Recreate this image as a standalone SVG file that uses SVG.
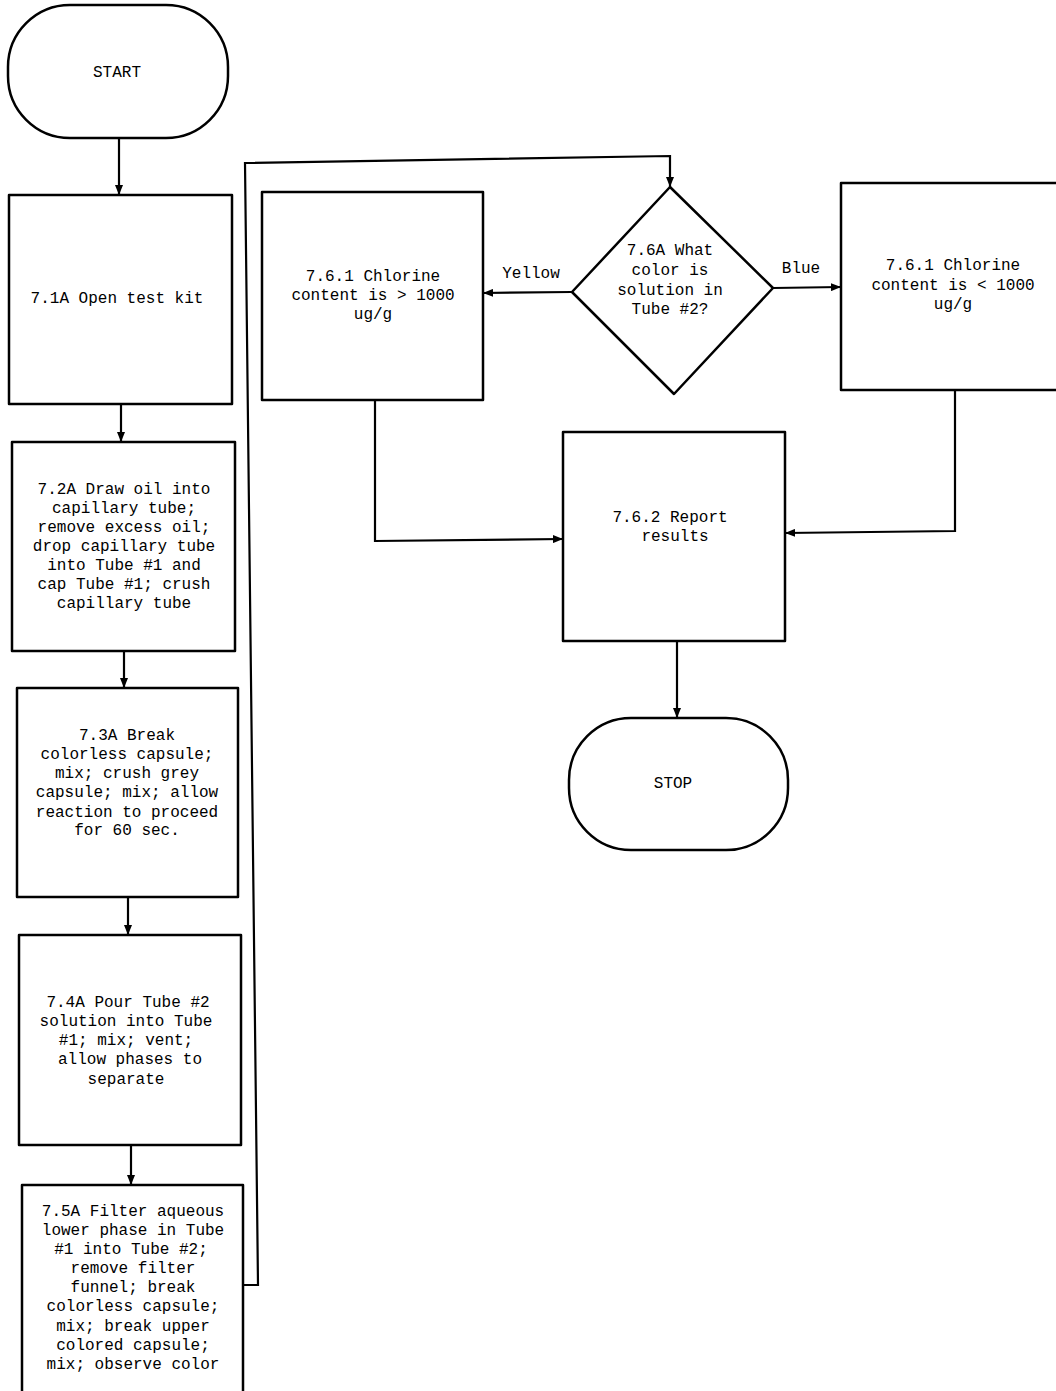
<svg xmlns="http://www.w3.org/2000/svg" width="1056" height="1391" viewBox="0 0 1056 1391">
<defs>
<style>
.shape{fill:#fff;stroke:#000;stroke-width:2.5;stroke-linejoin:round}
.conn{fill:none;stroke:#000;stroke-width:2.2}
text{font-family:"Liberation Mono","DejaVu Sans Mono",monospace;font-size:16px;fill:#000;text-anchor:middle}
</style>
<marker id="arr" markerUnits="userSpaceOnUse" markerWidth="10" markerHeight="8" refX="10" refY="4" orient="auto">
<path d="M0,0 L10,4 L0,8 Z" fill="#000"/>
</marker>
</defs>
<rect width="1056" height="1391" fill="#fff"/>

<g id="connectors">
<path class="conn" d="M119,138 L119,195" marker-end="url(#arr)"/>
<path class="conn" d="M121,404 L121,442" marker-end="url(#arr)"/>
<path class="conn" d="M124,651 L124,688" marker-end="url(#arr)"/>
<path class="conn" d="M128,897 L128,935" marker-end="url(#arr)"/>
<path class="conn" d="M131,1145 L131,1185" marker-end="url(#arr)"/>
<path class="conn" d="M243,1285 L258,1285 L245,163 L670,156 L670,187" marker-end="url(#arr)"/>
<path class="conn" d="M572,292 L483,293" marker-end="url(#arr)"/>
<path class="conn" d="M773,288 L841,287" marker-end="url(#arr)"/>
<path class="conn" d="M375,400 L375,541 L563,539" marker-end="url(#arr)"/>
<path class="conn" d="M955,390 L955,531 L785,533" marker-end="url(#arr)"/>
<path class="conn" d="M677,641 L677,718" marker-end="url(#arr)"/>
<text x="531" y="278">Yellow</text>
<text x="801" y="273">Blue</text>
</g>

<g id="start">
<rect class="shape" x="8" y="5" width="220" height="133" rx="62" ry="62"/>
<text x="117" y="77">START</text>
</g>

<g id="n71">
<rect class="shape" x="9" y="195" width="223" height="209"/>
<text x="117" y="303">7.1A Open test kit</text>
</g>

<g id="n72">
<rect class="shape" x="12" y="442" width="223" height="209"/>
<text x="124" y="494">7.2A Draw oil into</text>
<text x="124" y="513">capillary tube;</text>
<text x="124" y="532">remove excess oil;</text>
<text x="124" y="551">drop capillary tube</text>
<text x="124" y="570">into Tube #1 and</text>
<text x="124" y="589">cap Tube #1; crush</text>
<text x="124" y="608">capillary tube</text>
</g>

<g id="n73">
<rect class="shape" x="17" y="688" width="221" height="209"/>
<text x="127" y="740">7.3A Break</text>
<text x="127" y="759">colorless capsule;</text>
<text x="127" y="778">mix; crush grey</text>
<text x="127" y="797">capsule; mix; allow</text>
<text x="127" y="817">reaction to proceed</text>
<text x="127" y="835">for 60 sec.</text>
</g>

<g id="n74">
<rect class="shape" x="19" y="935" width="222" height="210"/>
<text x="128" y="1007">7.4A Pour Tube #2</text>
<text x="126" y="1026">solution into Tube</text>
<text x="126" y="1045">#1; mix; vent;</text>
<text x="130" y="1064">allow phases to</text>
<text x="126" y="1084">separate</text>
</g>

<g id="n75">
<rect class="shape" x="22" y="1185" width="221" height="220"/>
<text x="133" y="1216">7.5A Filter aqueous</text>
<text x="133" y="1235">lower phase in Tube</text>
<text x="131" y="1254">#1 into Tube #2;</text>
<text x="133" y="1273">remove filter</text>
<text x="133" y="1292">funnel; break</text>
<text x="133" y="1311">colorless capsule;</text>
<text x="133" y="1331">mix; break upper</text>
<text x="133" y="1350">colored capsule;</text>
<text x="133" y="1369">mix; observe color</text>
</g>

<g id="n761a">
<rect class="shape" x="262" y="192" width="221" height="208"/>
<text x="373" y="281">7.6.1 Chlorine</text>
<text x="373" y="300">content is &gt; 1000</text>
<text x="373" y="319">ug/g</text>
</g>

<g id="n76">
<path class="shape" d="M670,187 L773,288 L674,394 L572,292 Z"/>
<text x="670" y="255">7.6A What</text>
<text x="670" y="275">color is</text>
<text x="670" y="295">solution in</text>
<text x="670" y="314">Tube #2?</text>
</g>

<g id="n761b">
<rect class="shape" x="841" y="183" width="240" height="207"/>
<text x="953" y="270">7.6.1 Chlorine</text>
<text x="953" y="290">content is &lt; 1000</text>
<text x="953" y="309">ug/g</text>
</g>

<g id="n762">
<rect class="shape" x="563" y="432" width="222" height="209"/>
<text x="670" y="522">7.6.2 Report</text>
<text x="675" y="541">results</text>
</g>

<g id="stop">
<rect class="shape" x="569" y="718" width="219" height="132" rx="62" ry="62"/>
<text x="673" y="788">STOP</text>
</g>
</svg>
